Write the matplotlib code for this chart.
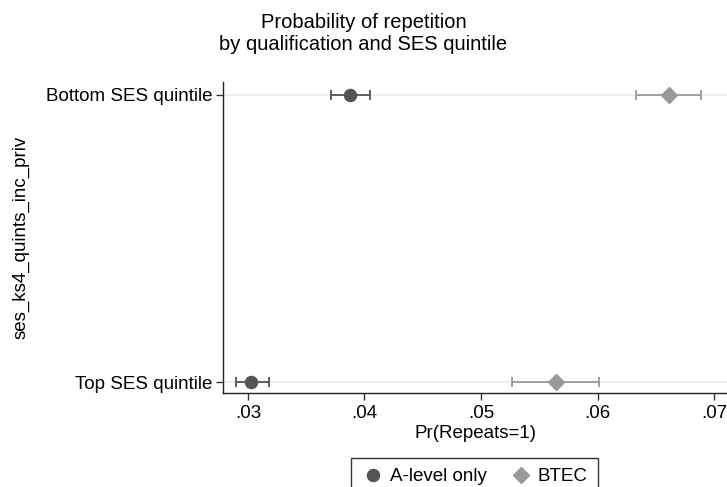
import matplotlib
matplotlib.use("Agg")
import matplotlib.pyplot as plt
from matplotlib.lines import Line2D

plt.rcParams['font.family'] = ['Liberation Sans', 'DejaVu Sans']

# data
categorias = ["Top SES quintile", "Bottom SES quintile"]
alevel = [0.0303, 0.0388]
alevel_lo = [0.0290, 0.0371]
alevel_hi = [0.0318, 0.0405]
btec = [0.0564, 0.0661]
btec_lo = [0.0527, 0.0633]
btec_hi = [0.0601, 0.0689]
xticks = [0.03, 0.04, 0.05, 0.06, 0.07]
xticklabels = [".03", ".04", ".05", ".06", ".07"]

oscuro = "#555555"
claro = "#999999"
fs = 13.5

fig = plt.figure(figsize=(7.27, 4.87), dpi=100)
ax = fig.add_axes([0.3072, 0.193, 0.6928, 0.6386])

pos = list(range(len(categorias)))
for p in pos:
    ax.axhline(p, color="#ebebeb", lw=1.2, zorder=0)

ax.errorbar(alevel, pos,
            xerr=[[a - l for a, l in zip(alevel, alevel_lo)],
                  [h - a for a, h in zip(alevel, alevel_hi)]],
            fmt="o", color=oscuro, ecolor=oscuro, ms=8.7, capsize=3.3,
            elinewidth=1.3, capthick=1.3, zorder=3)
ax.errorbar(btec, pos,
            xerr=[[b - l for b, l in zip(btec, btec_lo)],
                  [h - b for b, h in zip(btec, btec_hi)]],
            fmt="D", color=claro, ecolor=claro, ms=8.5, capsize=3.3,
            elinewidth=1.3, capthick=1.3, zorder=3)

ax.set_xlim(0.0279, 0.0711)
ax.set_ylim(-0.038, 1.045)
ax.set_yticks(pos)
ax.set_yticklabels(categorias, fontsize=fs)
ax.set_xticks(xticks)
ax.set_xticklabels(xticklabels, fontsize=fs)
ax.tick_params(axis="both", direction="out", length=5, width=1, color="#333333")
ax.tick_params(axis="y", pad=3)
for s in ["top", "right"]:
    ax.spines[s].set_visible(False)
for s in ["left", "bottom"]:
    ax.spines[s].set_color("#222222")
    ax.spines[s].set_linewidth(1)

ax.set_xlabel("Pr(Repeats=1)", fontsize=fs, labelpad=2)
ax.set_ylabel("ses_ks4_quints_inc_priv", fontsize=fs, labelpad=12)

fig.text(0.5, 1 - 22 / 487, "Probability of repetition", ha="center", va="center", fontsize=14.5)
fig.text(0.5, 1 - 45 / 487, "by qualification and SES quintile", ha="center", va="center", fontsize=14.5)

handles = [Line2D([], [], ls="none", marker="o", color=oscuro, ms=8.7),
           Line2D([], [], ls="none", marker="D", color=claro, ms=8.5)]
leg = fig.legend(handles, ["A-level only", "BTEC"], loc="upper center",
                 bbox_to_anchor=(0.6527, 1 - 458 / 487), ncol=2, fontsize=fs,
                 frameon=True, fancybox=False, framealpha=1, edgecolor="#333333",
                 handletextpad=0.3, columnspacing=1.2, borderpad=0.55,
                 borderaxespad=0, handlelength=1.2)
leg.get_frame().set_linewidth(1)

fig.savefig("out.png", dpi=100)
